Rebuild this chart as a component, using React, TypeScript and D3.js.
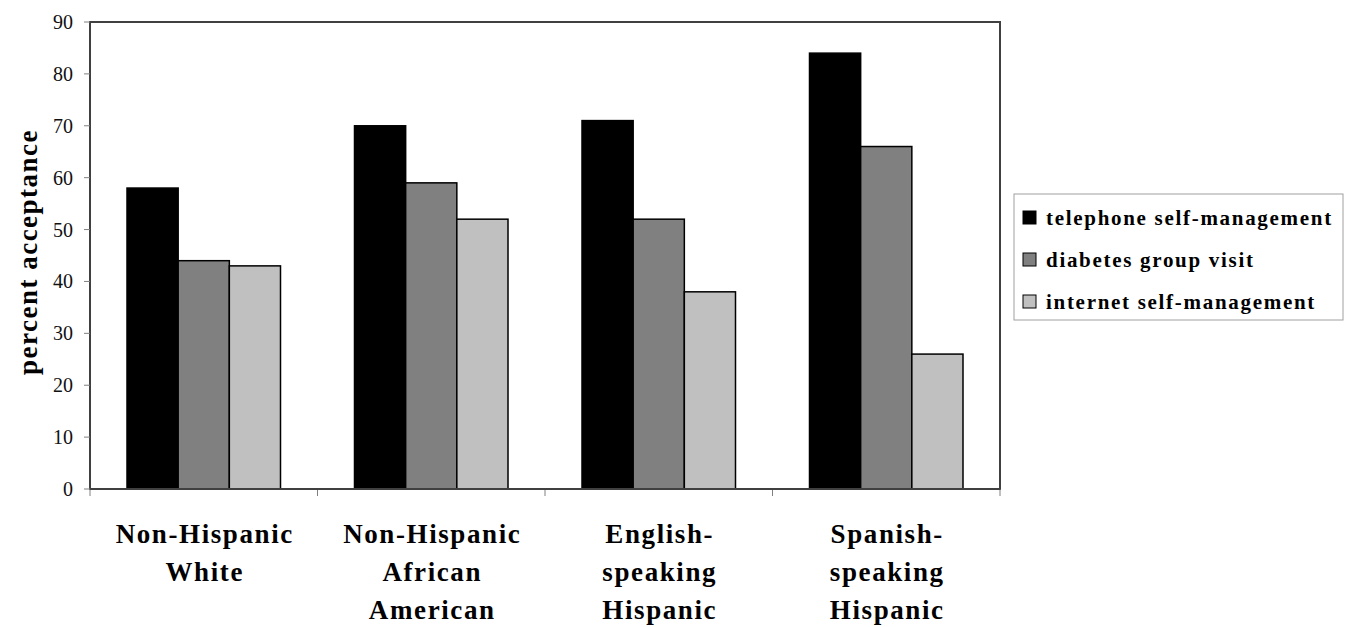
import React from "react";
import * as d3 from "d3";

const categories = [
  ["Non-Hispanic", "White"],
  ["Non-Hispanic", "African", "American"],
  ["English-", "speaking", "Hispanic"],
  ["Spanish-", "speaking", "Hispanic"],
];
const seriesNames = ["telephone self-management", "diabetes group visit", "internet self-management"];
const telephone = [58, 70, 71, 84];
const groupVisit = [44, 59, 52, 66];
const internet = [43, 52, 38, 26];
const colors = ["#000000", "#808080", "#c0c0c0"];
const yTicks = [0, 10, 20, 30, 40, 50, 60, 70, 80, 90];

export default function App() {
  const W = 1345, H = 627;
  const left = 90, right = 1000, top = 22, bottom = 489;
  const series = [telephone, groupVisit, internet];
  const x0 = d3.scaleBand<number>().domain(categories.map((_, i) => i)).range([left, right]).paddingInner(0).paddingOuter(0);
  const x1 = d3.scaleBand<number>().domain([0, 1, 2]).range([37, x0.bandwidth() - 37]);
  const y = d3.scaleLinear().domain([0, 90]).range([bottom, top]);
  const font = "'Liberation Serif', 'Times New Roman', serif";
  const boundaries = d3.range(categories.length + 1).map((i) => left + i * x0.bandwidth());
  return (
    <svg width={W} height={H} style={{ position: "absolute", left: 0, top: 0, background: "#fff" }} fontFamily={font}>
      <rect x={0} y={0} width={W} height={H} fill="#fff" />
      {categories.map((_, ci) =>
        series.map((s, si) => (
          <rect
            key={`${ci}-${si}`}
            x={(x0(ci) as number) + (x1(si) as number)}
            y={y(s[ci])}
            width={x1.bandwidth()}
            height={bottom - y(s[ci])}
            fill={colors[si]}
            stroke="#000"
            strokeWidth={1.5}
          />
        ))
      )}
      <rect x={left} y={top} width={right - left} height={bottom - top} fill="none" stroke="#404040" strokeWidth={2} />
      {yTicks.map((t) => (
        <g key={t}>
          <line x1={left - 6} x2={left} y1={y(t)} y2={y(t)} stroke="#808080" strokeWidth={1} />
          <text x={73} y={y(t)} dy="0.35em" textAnchor="end" fontSize={20} fill="#111">{t}</text>
        </g>
      ))}
      {boundaries.map((bx, i) => (
        <line key={i} x1={bx} x2={bx} y1={bottom} y2={bottom + 7} stroke="#808080" strokeWidth={1} />
      ))}
      <line x1={left} x2={right} y1={bottom} y2={bottom} stroke="#404040" strokeWidth={2} />
      {categories.map((lines, ci) => (
        <text key={ci} textAnchor="middle" fontSize={27} fontWeight="bold" fill="#000" letterSpacing={1.6}>
          {lines.map((l, li) => (
            <tspan key={li} x={(x0(ci) as number) + x0.bandwidth() / 2 + 1} y={543 + li * 38}>{l}</tspan>
          ))}
        </text>
      ))}
      <text transform={`translate(37, 252) rotate(-90)`} textAnchor="middle" fontSize={27} fontWeight="bold" fill="#000" letterSpacing={1.5}>percent acceptance</text>
      <rect x={1014} y={194} width={329} height={126} fill="#fff" stroke="#a0a0a0" strokeWidth={1} />
      {seriesNames.map((n, i) => (
        <g key={n}>
          <rect x={1023} y={211 + i * 42} width={13} height={13} fill={colors[i]} stroke="#000" strokeWidth={1} />
          <text x={1046} y={218 + i * 42} dy="0.35em" fontSize={21} fontWeight="bold" fill="#000" letterSpacing={1.7}>{n}</text>
        </g>
      ))}
    </svg>
  );
}
